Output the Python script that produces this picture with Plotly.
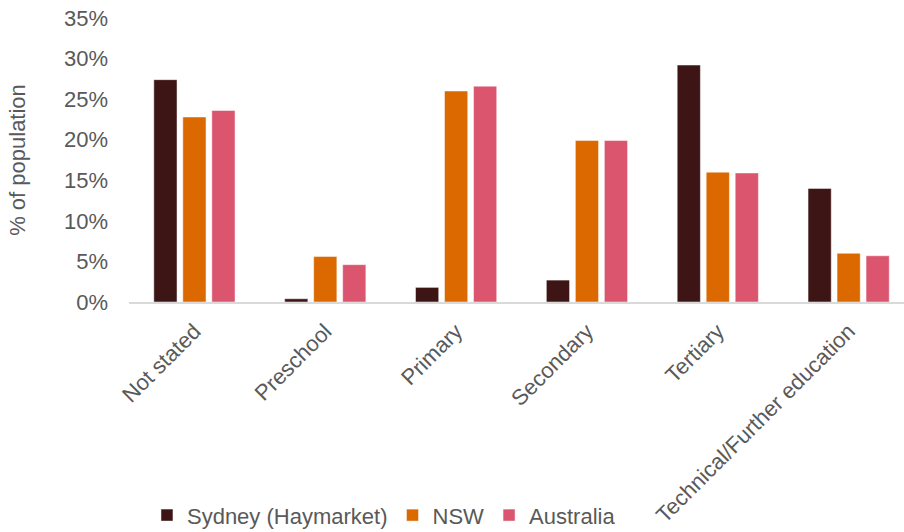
import plotly.graph_objects as go

# Field of study / institution type attended, share of population (%)
categories = ["Not stated", "Preschool", "Primary", "Secondary", "Tertiary",
              "Technical/Further education"]
sydney_haymarket = [27.4, 0.4, 1.8, 2.7, 29.2, 14.0]
nsw = [22.8, 5.6, 26.0, 19.9, 16.0, 6.0]
australia = [23.6, 4.6, 26.6, 19.9, 15.9, 5.7]

series = [
    ("Sydney (Haymarket)", sydney_haymarket, "#3E1515"),
    ("NSW", nsw, "#DB6900"),
    ("Australia", australia, "#DB556E"),
]

font_family = "Liberation Sans, Arial, sans-serif"
text_color = "#595959"
fs = 22

fig = go.Figure()
for name, values, color in series:
    fig.add_trace(go.Bar(
        name=name,
        x=categories,
        y=values,
        marker=dict(color=color, line=dict(color="rgba(255,255,255,0.6)", width=0.8)),
    ))

fig.update_layout(
    width=904,
    height=532,
    margin=dict(l=129, r=0, t=18, b=230, autoexpand=False),
    paper_bgcolor="white",
    plot_bgcolor="white",
    barmode="group",
    bargap=0.335,
    bargroupgap=0.2,
    font=dict(family=font_family, size=fs, color=text_color),
    showlegend=True,
    legend=dict(
        orientation="h",
        x=0.329,
        xanchor="center",
        y=-0.825,
        yanchor="bottom",
        bgcolor="rgba(0,0,0,0)",
        font=dict(size=fs, color=text_color),
        itemwidth=30,
        traceorder="normal",
    ),
    xaxis=dict(
        type="category",
        range=[-0.5, 5.423],
        tickangle=-45,
        showline=True,
        linecolor="#D9D9D9",
        linewidth=1.5,
        showgrid=False,
        ticks="",
        tickfont=dict(size=fs, color=text_color),
        ticklabelstandoff=6,
    ),
    yaxis=dict(
        range=[0, 35],
        dtick=5,
        ticksuffix="%",
        showgrid=False,
        zeroline=False,
        showline=False,
        ticks="",
        tickfont=dict(size=fs, color=text_color),
        ticklabelstandoff=20,
        title=dict(text="% of population", font=dict(size=fs, color=text_color), standoff=32),
    ),
)

fig.write_html("out.html")
